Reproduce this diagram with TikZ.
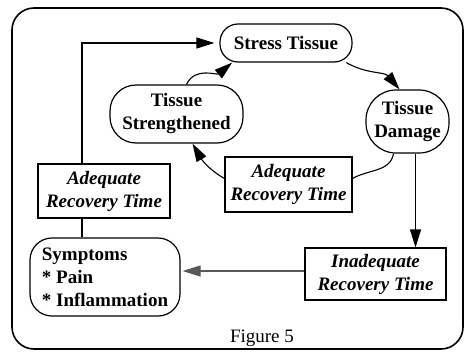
\documentclass[tikz,border=0pt]{standalone}
\usepackage{fontspec}
\setmainfont{Liberation Serif}
\usetikzlibrary{arrows.meta}
\tikzset{
  txt/.style={font=\fontsize{19}{23}\selectfont\bfseries, align=center, inner sep=0pt},
  rbox/.style={txt, draw, line width=1.2pt},
  sqbox/.style={txt, draw, line width=1.1pt, font=\fontsize{19}{23}\selectfont\bfseries\itshape},
  conn/.style={line width=1.1pt},
  arr/.style={conn, -{Triangle[length=18pt,width=11pt]}},
}
\begin{document}
\begin{tikzpicture}[x=1pt,y=1pt]
\useasboundingbox (0,0) rectangle (465,-351);
\draw[line width=1.6pt, rounded corners=22pt] (12,-8) rectangle (463,-349);

\node[rbox, minimum width=132pt, minimum height=38pt, rounded corners=18pt] (st) at (286,-43) {Stress Tissue};
\node[rbox, minimum width=133pt, minimum height=58pt, rounded corners=26pt] (ts) at (176.5,-114) {Tissue\\Strengthened};
\node[rbox, minimum width=83pt, minimum height=63pt, rounded corners=30pt] (td) at (407.5,-121.5) {Tissue\\Damage};
\node[sqbox, minimum width=127pt, minimum height=55pt] (ma) at (288.5,-184.5) {Adequate\\Recovery Time};
\node[sqbox, minimum width=132pt, minimum height=54pt] (la) at (104,-191) {Adequate\\Recovery Time};
\node[rbox, align=left, minimum width=150pt, minimum height=78pt, rounded corners=22pt] (sy) at (105,-277) {Symptoms\\* Pain\\* Inflammation};
\node[sqbox, minimum width=141pt, minimum height=52pt] (ia) at (375.5,-274) {Inadequate\\Recovery Time};
\node[txt, font=\fontsize{19}{23}\selectfont] (fig) at (262,-338) {Figure 5};

% cycle
\draw[arr] (st.-18) to[out=-30,in=130] ([xshift=-8pt]td.north);
\draw[conn] ([xshift=-14pt]td.south) to[out=-100,in=30] ([yshift=6pt]ma.east);
\draw[arr] ([yshift=6pt]ma.west) to[out=150,in=-60] ([xshift=16pt]ts.south);
\draw[arr] ([xshift=10pt]ts.north) to[out=65,in=-140] (st.200);

% outer paths
\draw[arr] ([xshift=-22pt]la.north) |- ([xshift=-5pt]st.west);
\draw[conn] ([xshift=-22pt]la.south) -- ([xshift=-22pt]la.south |- sy.north);
\draw[arr] ([xshift=8pt]td.south) -- ([xshift=8pt]td.south |- ia.north);
\draw[arr, black!65] ([yshift=3pt]ia.west) -- ([yshift=3pt,xshift=2pt]ia.west -| sy.east);
\end{tikzpicture}
\end{document}
